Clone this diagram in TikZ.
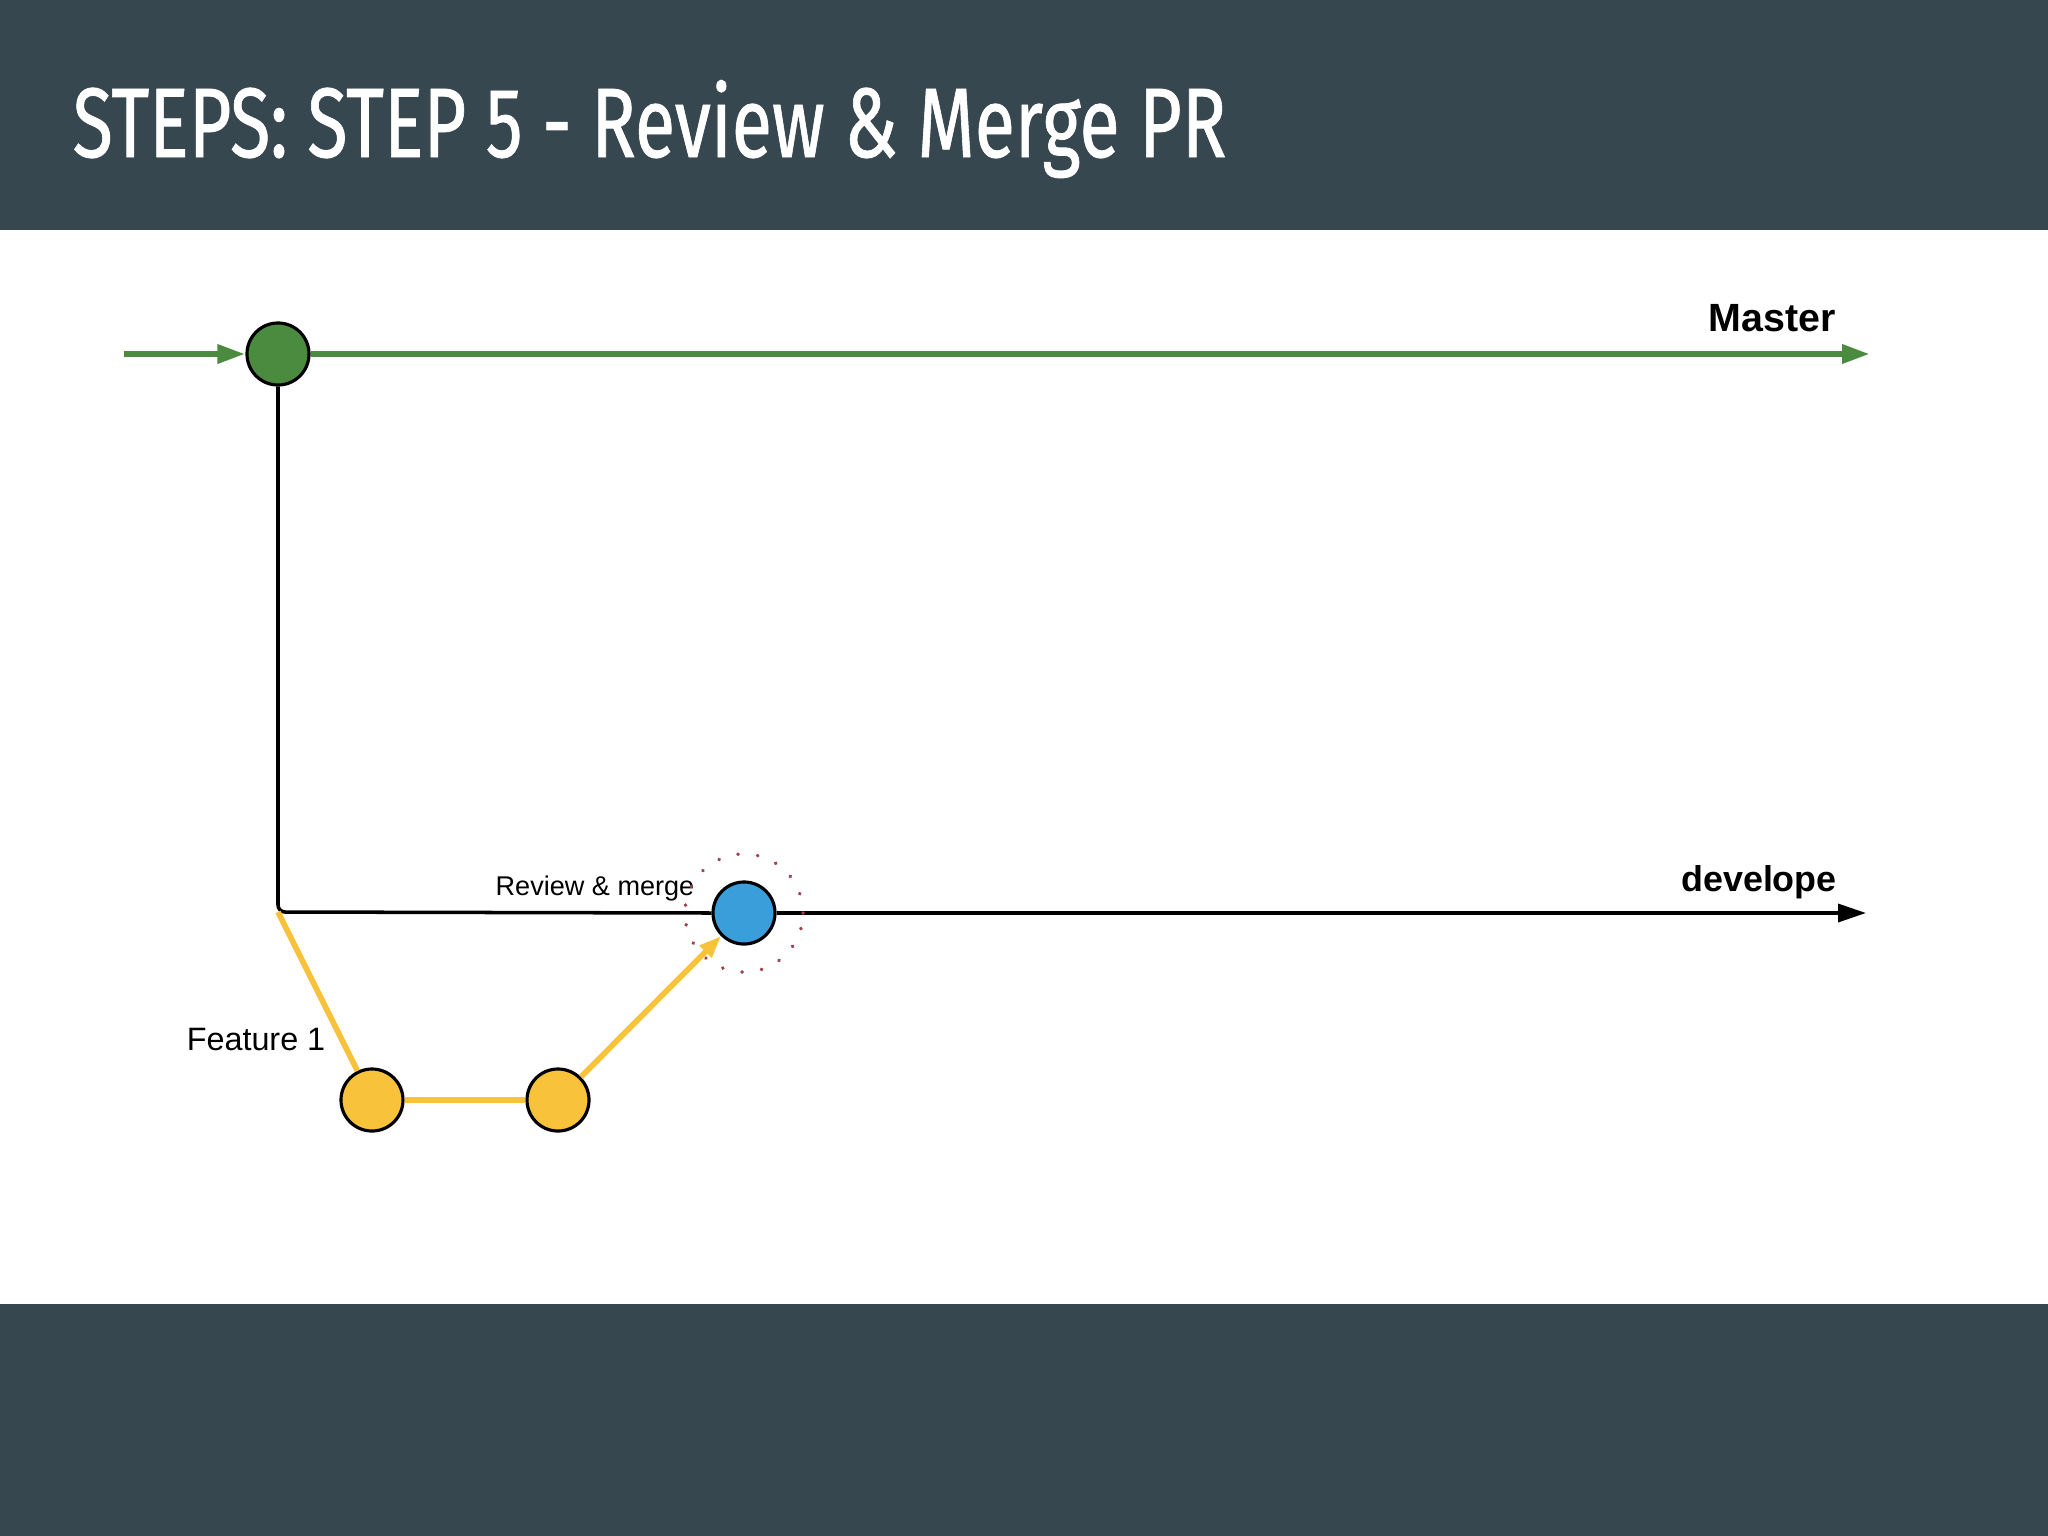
\documentclass[tikz,border=0pt]{standalone}
\usepackage{fontspec}
\setmainfont{Liberation Sans}
\newfontfamily\titlefont[FakeBold=0.8]{Fira Sans}
\usetikzlibrary{arrows.meta}
\definecolor{slate}{HTML}{37474F}
\definecolor{mastergreen}{HTML}{4A8B3F}
\definecolor{featyellow}{HTML}{F8C33B}
\definecolor{reviewblue}{HTML}{3A9EDB}
\definecolor{dotred}{HTML}{A0404A}
\begin{document}
\begin{tikzpicture}[x=0.01cm, y=-0.01cm,
	commit/.style={circle, draw=black, line width=0.9pt, minimum size=0.62cm, inner sep=0pt},
	tip/.style={-{Triangle[length=0.28cm, width=0.18cm]}}]
	\useasboundingbox (0,0) rectangle (2048,1536);
	\fill[white] (0,0) rectangle (2048,1536);
	\fill[slate] (0,0) rectangle (2048,230);
	\fill[slate] (0,1304) rectangle (2048,1536);
	\node[anchor=base west, inner sep=0pt, text=white] (title) at (72,157)
		{\resizebox{11.53cm}{0.77cm}{\titlefont STEPS: STEP 5 - Review \& Merge PR}};

	\node[commit, fill=mastergreen] (m) at (278,354) {};
	\node[commit, fill=reviewblue] (b) at (744,913) {};
	\node[commit, fill=featyellow] (f1) at (372,1100) {};
	\node[commit, fill=featyellow] (f2) at (558,1100) {};
	\coordinate (start) at (124,354);
	\coordinate (masterend) at (1870,354);
	\coordinate (fork) at (278,912);
	\coordinate (devend) at (1866,913);

	\node[font=\bfseries\fontsize{11.2}{13}\selectfont] (masterlbl) at (1772,318) {Master};
	\node[font=\bfseries\fontsize{10.2}{12}\selectfont] (devlbl) at (1759,882) {develope};
	\node[font=\fontsize{7.7}{9}\selectfont] (reviewlbl) at (595,888) {Review \& merge};
	\node[font=\fontsize{9.2}{11}\selectfont] (featlbl) at (256,1040) {Feature 1};

	\draw[mastergreen, line width=1.8pt, tip] (start) -- (m.west);
	\draw[mastergreen, line width=1.8pt, tip] (m.east) -- (masterend);
	\draw[line width=1pt, rounded corners=2pt] (m.south) -- (fork) -- (b.west);
	\draw[line width=1pt, tip] (b.east) -- (devend);
	\draw[featyellow, line width=1.6pt] (fork) -- (f1) -- (f2);
	\draw[featyellow, line width=1.6pt, -{Triangle[length=0.22cm, width=0.16cm]}] (f2) -- (b);
	\draw[dotred, line width=1.1pt, dash pattern=on 0.01pt off 5.6pt, line cap=round] (b) circle (0.59cm);
\end{tikzpicture}
\end{document}
